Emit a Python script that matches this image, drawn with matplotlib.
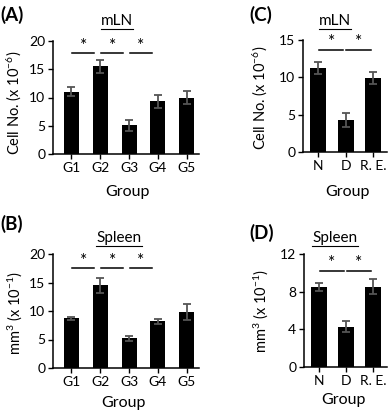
import matplotlib
matplotlib.use("Agg")
import matplotlib.pyplot as plt
from matplotlib.lines import Line2D

plt.rcParams["font.family"] = ["Lato", "DejaVu Sans"]
plt.rcParams["mathtext.default"] = "regular"

# ===== DATA =====
groups_5 = ["G1", "G2", "G3", "G4", "G5"]
groups_3 = ["N", "D", "R. E."]

mln_cells = [11.0, 15.5, 5.1, 9.3, 10.0]
mln_cells_err = [0.8, 1.1, 1.0, 1.2, 1.1]

spleen_vol = [8.7, 14.5, 5.2, 8.2, 9.8]
spleen_vol_err = [0.2, 1.3, 0.5, 0.4, 1.4]

mln_cells_c = [11.2, 4.3, 9.9]
mln_cells_c_err = [0.8, 0.9, 0.8]

spleen_vol_d = [8.5, 4.3, 8.5]
spleen_vol_d_err = [0.45, 0.6, 0.8]

W, H = 388, 418
fig = plt.figure(figsize=(W / 100, H / 100), dpi=100)


def box(x0, x1, y0, y1):
    # pixel box -> figure fraction
    return [x0 / W, 1 - y1 / H, (x1 - x0) / W, (y1 - y0) / H]


def panel(rect, names, vals, errs, ylim, yticks, xlim, width, sig, line_y, star_y, shrink):
    ax = fig.add_axes(rect)
    x = list(range(len(names)))
    ax.bar(x, vals, width=width, color="black", zorder=2)
    ax.errorbar(x, vals, yerr=errs, fmt="none", ecolor="#555555",
                elinewidth=1.3, capsize=3, capthick=1.3, zorder=3)
    for a, b in sig:
        ax.plot([a + 0.03, b - shrink], [line_y, line_y], color="black",
                lw=1.1, clip_on=False)
        ax.text((a + 0.03 + b - shrink) / 2, star_y, "*", ha="center",
                va="center", fontsize=12.5, clip_on=False)
    ax.set_xlim(*xlim)
    ax.set_ylim(*ylim)
    ax.set_yticks(yticks)
    ax.set_xticks(x)
    ax.set_xticklabels(names)
    for s in ["top", "right"]:
        ax.spines[s].set_visible(False)
    for s in ["left", "bottom"]:
        ax.spines[s].set_linewidth(1.1)
    ax.tick_params(direction="out", length=3.5, width=1.0, labelsize=10, pad=2)
    ax.patch.set_alpha(0)
    return ax


axA = panel(box(53, 199, 41, 154), groups_5, mln_cells, mln_cells_err,
            (0, 20), [0, 5, 10, 15, 20], (-0.64, 4.43), 0.52,
            [(0, 1), (1, 2), (2, 3)], 17.9, 19.2, 0.2)
axB = panel(box(53, 199, 254, 368), groups_5, spleen_vol, spleen_vol_err,
            (0, 20), [0, 5, 10, 15, 20], (-0.64, 4.43), 0.52,
            [(0, 1), (1, 2), (2, 3)], 17.5, 18.8, 0.2)
axC = panel(box(303, 387, 40, 152), groups_3, mln_cells_c, mln_cells_c_err,
            (0, 15), [0, 5, 10, 15], (-0.55, 2.51), 0.58,
            [(0, 1), (1, 2)], 13.7, 14.7, 0.08)
axD = panel(box(304, 387, 254, 367), groups_3, spleen_vol_d, spleen_vol_d_err,
            (0, 12), [0, 4, 8, 12], (-0.55, 2.51), 0.58,
            [(0, 1), (1, 2)], 10.2, 11.0, 0.08)


def ftext(px, py, s, **kw):
    return fig.text(px / W, 1 - py / H, s, **kw)


# ===== LABELS =====
ftext(0, 15, "(A)", fontsize=13.5, fontweight="bold", va="center")
ftext(249, 15, "(C)", fontsize=13.5, fontweight="bold", va="center")
ftext(0, 224, "(B)", fontsize=13.5, fontweight="bold", va="center")
ftext(249, 233, "(D)", fontsize=13.5, fontweight="bold", va="center")

titles = [
    ftext(117, 21, "mLN", fontsize=11, ha="center", va="center"),
    ftext(335, 21, "mLN", fontsize=11, ha="center", va="center"),
    ftext(119, 238, "Spleen", fontsize=11, ha="center", va="center"),
    ftext(335, 238, "Spleen", fontsize=11, ha="center", va="center"),
]

ftext(128, 192, "Group", fontsize=11.5, ha="center", va="center")
ftext(123, 403, "Group", fontsize=11.5, ha="center", va="center")
ftext(347, 192, "Group", fontsize=11.5, ha="center", va="center")
ftext(343, 400, "Group", fontsize=11.5, ha="center", va="center")

ftext(14, 103, "Cell No. (x 10$^{-6}$)", fontsize=10.5, rotation=90, ha="center", va="center")
ftext(260, 98, "Cell No. (x 10$^{-6}$)", fontsize=10.5, rotation=90, ha="center", va="center")
ftext(15, 313, "mm$^{3}$ (x 10$^{-1}$)", fontsize=10.5, rotation=90, ha="center", va="center")
ftext(261, 311, "mm$^{3}$ (x 10$^{-1}$)", fontsize=10.5, rotation=90, ha="center", va="center")

# underline the panel titles
fig.canvas.draw()
r = fig.canvas.get_renderer()
for t in titles:
    bb = t.get_window_extent(r)
    yline = (bb.y0 - 0.5) / H
    fig.add_artist(Line2D([bb.x0 / W, bb.x1 / W], [yline, yline],
                          color="black", lw=0.8, transform=fig.transFigure))

fig.savefig("out.png", dpi=100)
